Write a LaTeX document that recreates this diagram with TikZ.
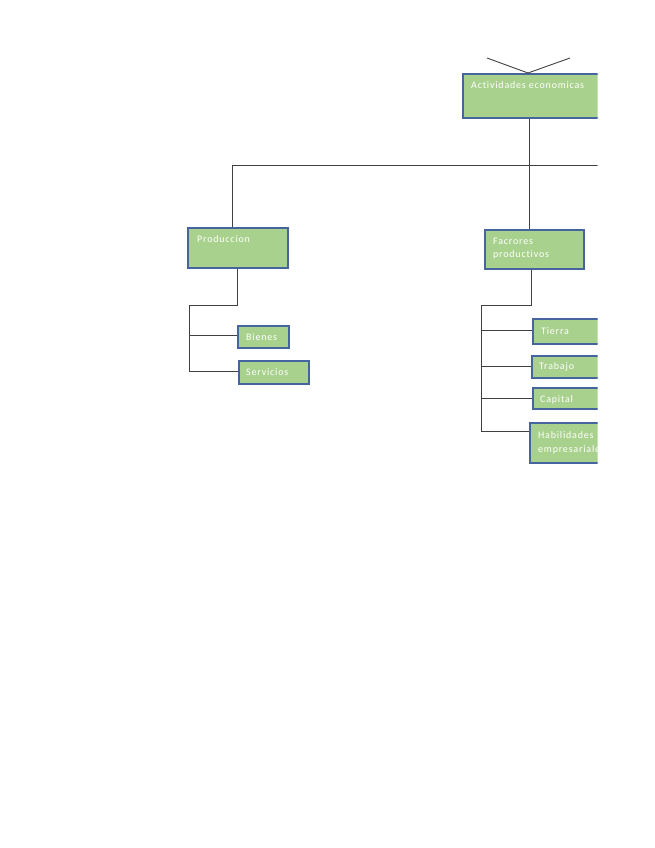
\documentclass[tikz,border=0pt]{standalone}
\usepackage{fontspec}
\setmainfont{Carlito}[LetterSpace=8,Ligatures=NoCommon]
\definecolor{boxfill}{HTML}{A9D18E}
\definecolor{boxline}{HTML}{46659F}
\definecolor{conn}{HTML}{404040}
\tikzset{
  box/.style={draw=boxline, fill=boxfill, line width=1.6pt, anchor=north west, inner sep=0pt},
  lbl/.style={anchor=base west, text=white, font=\fontsize{10}{13}\selectfont, align=left, inner sep=0pt},
  wire/.style={draw=conn, line width=0.9pt}
}
\begin{document}
\begin{tikzpicture}[x=1pt,y=-1pt]
\useasboundingbox (0,0) rectangle (655,848);
\begin{scope}
\clip (0,0) rectangle (597.5,848);
% boxes
\node[box, minimum width=160pt, minimum height=44pt] (act) at (462,73) {};
\node[lbl] (actt) at (471,88.5) {Actividades economicas};
\node[box, minimum width=100pt, minimum height=40pt] (prod) at (187,227) {};
\node[lbl] (prodt) at (197,242) {Produccion};
\node[box, minimum width=99pt, minimum height=39pt] (fac) at (484,229) {};
\node[lbl] (fact) at (493,244) {Facrores};
\node[lbl] (fact2) at (493,257) {productivos};
\node[box, minimum width=51pt, minimum height=22pt] (bie) at (237,325) {};
\node[lbl] (biet) at (246,340) {Bienes};
\node[box, minimum width=70pt, minimum height=23pt] (ser) at (238,360) {};
\node[lbl] (sert) at (246,375) {Servicios};
\node[box, minimum width=80pt, minimum height=25pt] (tie) at (532,318) {};
\node[lbl] (tiet) at (541,334) {Tierra};
\node[box, minimum width=80pt, minimum height=22pt] (tra) at (531,355) {};
\node[lbl] (trat) at (539,369) {Trabajo};
\node[box, minimum width=80pt, minimum height=21pt] (cap) at (532,387) {};
\node[lbl] (capt) at (540,402) {Capital};
\node[box, minimum width=80pt, minimum height=40pt] (hab) at (529,422) {};
\node[lbl] (habt) at (538,438) {Habilidades};
\node[lbl] (habt2) at (538,452) {empresariales};
% coordinates
\coordinate (tl) at (487,58);
\coordinate (tr) at (570,58);
\coordinate (actn) at ([xshift=66pt]act.north west);
\coordinate (acts) at ([xshift=67pt]act.south west);
\coordinate (facs) at ([xshift=47pt]fac.south west);
\coordinate (hm) at (acts |- 0,165);
\coordinate (hl) at (232,165);
\coordinate (hr) at (600,165);
\coordinate (pa) at (prod.south |- 0,305);
\coordinate (pb) at (189,305);
\coordinate (pc) at (189,335);
\coordinate (pd) at (189,371);
\coordinate (fa) at (facs |- 0,305);
\coordinate (fb) at (481,305);
\coordinate (f1) at (481,330);
\coordinate (f2) at (481,366);
\coordinate (f3) at (481,398);
\coordinate (f4) at (481,431);
% connectors
\draw[wire] (tl) -- (actn) -- (tr);
\draw[wire] (acts) -- (hm);
\draw[wire] (hl) -- (hr);
\draw[wire] (hl) -- (hl |- prod.north);
\draw[wire] (hm) -- (hm |- fac.north);
\draw[wire] (prod.south) -- (pa) -- (pb) -- (pd);
\draw[wire] (pc) -- (pc -| bie.west);
\draw[wire] (pd) -- (pd -| ser.west);
\draw[wire] (facs) -- (fa) -- (fb) -- (f4);
\draw[wire] (f1) -- (f1 -| tie.west);
\draw[wire] (f2) -- (f2 -| tra.west);
\draw[wire] (f3) -- (f3 -| cap.west);
\draw[wire] (f4) -- (f4 -| hab.west);
\end{scope}
\end{tikzpicture}
\end{document}
